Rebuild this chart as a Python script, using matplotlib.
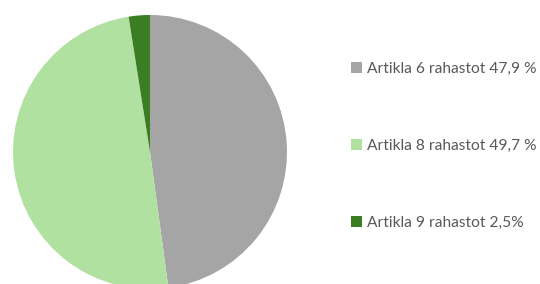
import matplotlib.pyplot as plt

# Data
labels = ['Artikla 6 rahastot 47,9 %', 'Artikla 8 rahastot 49,7 %', 'Artikla 9 rahastot 2,5%']
shares = [47.9, 49.7, 2.5]
colors = ['#A5A5A5', '#B1E1A1', '#3B7D23']

plt.rcParams['font.family'] = ['Lato', 'DejaVu Sans']

fig = plt.figure(figsize=(5.4, 2.84), dpi=100)

# pie centre at (150, 152) px, radius 137 px
ax = fig.add_axes([13 / 540, (284 - 152 - 137) / 284, 274 / 540, 274 / 284])
wedges, _ = ax.pie(shares, colors=colors, startangle=90, counterclock=False,
                   radius=1.0, wedgeprops=dict(linewidth=0))
ax.set_xlim(-1, 1)
ax.set_ylim(-1, 1)
ax.axis('off')

fig.legend(wedges, labels, loc='center left', bbox_to_anchor=(337 / 540, 1 - 146 / 284),
           frameon=False, fontsize=11.2, labelcolor='#595959',
           handlelength=0.7, handleheight=0.7, handletextpad=0.3,
           labelspacing=4.05)

fig.savefig('out.png', dpi=100)
